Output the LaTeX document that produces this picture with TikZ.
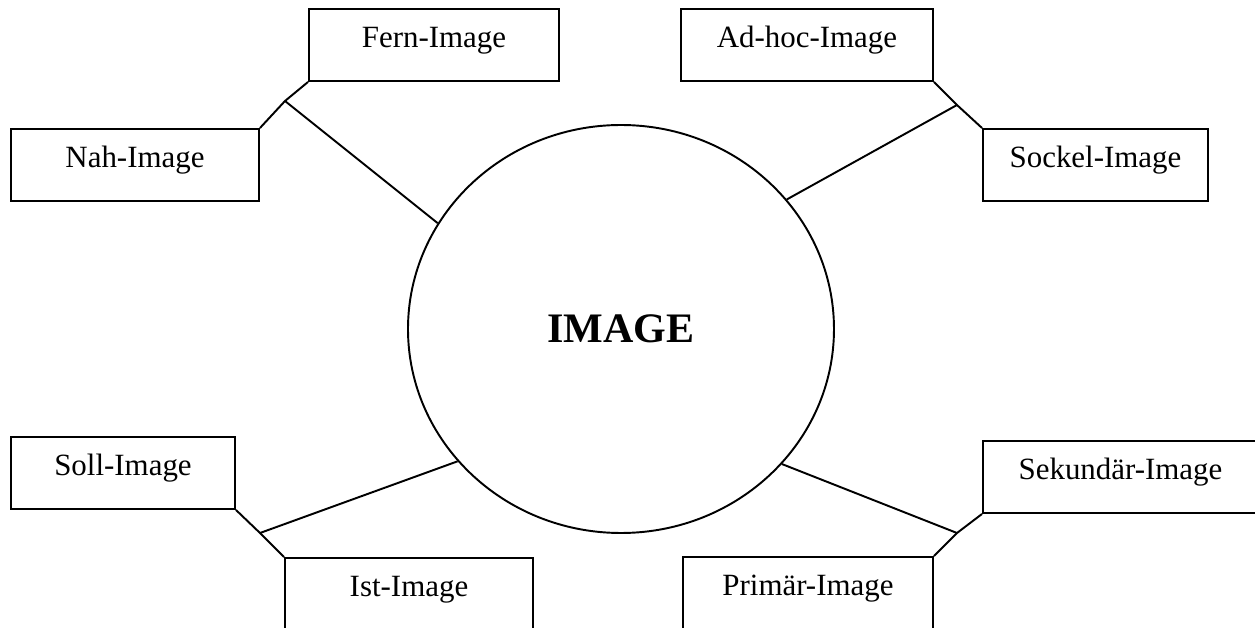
\documentclass[tikz,border=0pt]{standalone}
\usepackage{fontspec}
\setmainfont{Liberation Serif}
\usepackage{tikz}
\usetikzlibrary{calc}
\usetikzlibrary{shapes.geometric,positioning}

\tikzset{
  imgbox/.style={draw, rectangle, minimum width=5cm, minimum height=1.44cm,
    inner sep=0pt, text height=0.43cm, text depth=0.31cm,
    font=\fontsize{17.6}{21}\selectfont},
  imgcircle/.style={draw, ellipse, minimum width=8.52cm, minimum height=8.16cm,
    inner sep=0pt, font=\fontsize{23.9}{28}\selectfont\bfseries},
}

\begin{document}
\begin{tikzpicture}[line width=1.1pt]
  \useasboundingbox (-12.42,-5.98) rectangle (12.68,6.58);

  \path
    (-6.72,4.56) coordinate (j1)
    (6.72,4.48) coordinate (j2)
    (-7.22,-4.08) coordinate (j3)
    (6.72,-4.08) coordinate (j4)
    ;

  \node[imgcircle] (img) at (0,0) {IMAGE};

  % oben
  \node[imgbox] (fern) at (-3.74,5.68) {Fern-Image};
  \node[imgbox, minimum width=4.96cm] (nah) at (-9.72,3.28) {Nah-Image};
  \node[imgbox, minimum width=5.04cm] (adhoc) at (3.72,5.68) {Ad-hoc-Image};
  \node[imgbox, minimum width=4.5cm] (sockel) at (9.49,3.28) {Sockel-Image};

  % unten
  \node[imgbox, minimum width=4.48cm] (soll) at (-9.96,-2.88) {Soll-Image};
  \node[imgbox, minimum width=4.96cm] (ist) at (-4.24,-5.30) {Ist-Image};
  \node[imgbox, minimum width=5.5cm] (sek) at (9.99,-2.96) {Sekundär-Image};
  \node[imgbox] (prim) at (3.74,-5.28) {Primär-Image};

  \draw (fern.south west) -- (j1) -- (nah.north east);
  \draw (adhoc.south east) -- (j2) -- (sockel.north west);
  \draw (soll.south east) -- (j3) -- (ist.north west);
  \draw (prim.north east) -- (j4) -- (sek.south west);

  \draw (j1) -- (img.150);
  \draw (j2) -- (img.38.4);
  \draw (j3) -- (img.219.2);
  \draw (j4) -- (img.320.6);
\end{tikzpicture}
\end{document}
